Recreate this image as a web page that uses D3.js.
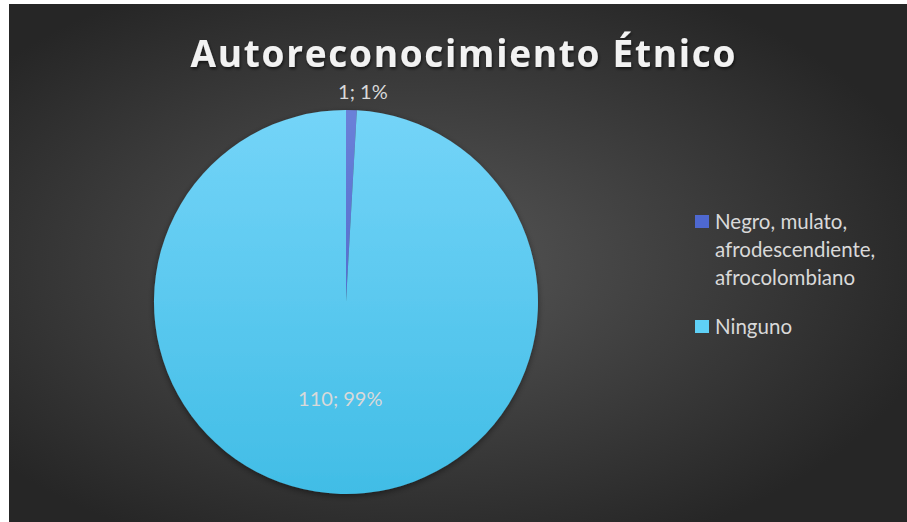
<!DOCTYPE html>
<html>
<head>
<meta charset="utf-8">
<script src="https://cdn.jsdelivr.net/npm/d3@7"></script>
<style>
html, body { margin: 0; padding: 0; background: #fff; }
svg { display: block; }
.title { font-family: "Open Sans", sans-serif; font-weight: 700; fill: #f2f2f2; }
.lbl { font-family: Lato, "Open Sans", sans-serif; fill: #d9d9d9; }
.legend text { font-family: Lato, "Open Sans", sans-serif; fill: #d9d9d9; }
</style>
</head>
<body>
<svg id="chart" width="907" height="522"></svg>
<script>
// data
var categories = ["Negro, mulato, afrodescendiente, afrocolombiano", "Ninguno"];
var legendLines = [["Negro, mulato,", "afrodescendiente,", "afrocolombiano"], ["Ninguno"]];
var values = [1, 110];
var percents = ["1%", "99%"];
var chartTitle = "Autoreconocimiento Étnico";

var svg = d3.select("#chart"),
    W = +svg.attr("width"), H = +svg.attr("height");

var defs = svg.append("defs");

/// background gradient, lighter in the middle
var bg = defs.append("radialGradient").attr("id", "bg")
    .attr("cx", 0.45).attr("cy", 0.5).attr("r", 0.6);
bg.append("stop").attr("offset", "0%").attr("stop-color", "#575757");
bg.append("stop").attr("offset", "100%").attr("stop-color", "#262626");

/// slice gradients (top light, bottom darker)
var sliceColors = [["#6b80d8", "#3d5cc4"], ["#74d4f8", "#41bde6"]];
var legendColors = ["#4e68d0", "#5fd0f6"];
sliceColors.forEach(function(c, i) {
    var g = defs.append("linearGradient").attr("id", "sl" + i)
        .attr("gradientUnits", "userSpaceOnUse")
        .attr("x1", 0).attr("y1", -192).attr("x2", 0).attr("y2", 192);
    g.append("stop").attr("offset", "0%").attr("stop-color", c[0]);
    g.append("stop").attr("offset", "100%").attr("stop-color", c[1]);
});

var sh = defs.append("filter").attr("id", "tshadow")
    .attr("x", "-10%").attr("y", "-30%").attr("width", "120%").attr("height", "160%");
sh.append("feDropShadow").attr("dx", 1).attr("dy", 2).attr("stdDeviation", 1.5)
    .attr("flood-color", "#000").attr("flood-opacity", 0.6);

var psh = defs.append("filter").attr("id", "pshadow")
    .attr("x", "-10%").attr("y", "-10%").attr("width", "120%").attr("height", "120%");
psh.append("feDropShadow").attr("dx", 0).attr("dy", 2).attr("stdDeviation", 3)
    .attr("flood-color", "#000").attr("flood-opacity", 0.45);

svg.append("rect")
    .attr("x", 9).attr("y", 4)
    .attr("width", W - 9).attr("height", H - 4)
    .attr("fill", "url(#bg)");

/// title
svg.append("text")
    .attr("class", "title")
    .attr("x", 463).attr("y", 67)
    .attr("text-anchor", "middle")
    .attr("font-size", 37)
    .attr("textLength", 545)
    .attr("lengthAdjust", "spacing")
    .attr("filter", "url(#tshadow)")
    .text(chartTitle);

/// pie
var cx = 346, cy = 302, r = 192;

var pie = d3.pie().sort(null).value(function(d) { return d; });
var arcs = pie(values);

var arc = d3.arc().innerRadius(0).outerRadius(r);
var outerArc = d3.arc().innerRadius(r + 16).outerRadius(r + 16);

var g = svg.append("g").attr("transform", "translate(" + cx + "," + cy + ")");

g.append("g").attr("filter", "url(#pshadow)")
  .selectAll("path")
  .data(arcs)
  .enter().append("path")
    .attr("d", arc)
    .attr("fill", function(d, i) { return "url(#sl" + i + ")"; });

/// data labels: small slice outside, big slice inside
g.selectAll("text.lbl")
  .data(arcs)
  .enter().append("text")
    .attr("class", "lbl")
    .attr("font-size", 20)
    .attr("text-anchor", "middle")
    .attr("transform", function(d, i) {
        var p = i === 0 ? outerArc.centroid(d) : arc.centroid(d);
        if (i === 0) { p[0] += 11; p[1] += 5; }
        else { p[0] -= 3; p[1] += 8; }
        return "translate(" + p[0] + "," + p[1] + ")";
    })
    .text(function(d, i) { return values[i] + "; " + percents[i]; });

/// legend
var legend = svg.append("g").attr("class", "legend")
    .attr("transform", "translate(695,215)");

var ly = 0;
categories.forEach(function(c, i) {
    var item = legend.append("g").attr("transform", "translate(0," + ly + ")");
    item.append("rect")
        .attr("width", 14).attr("height", 13)
        .attr("fill", legendColors[i]);
    legendLines[i].forEach(function(t, j) {
        item.append("text")
            .attr("x", 20).attr("y", 14 + j * 28)
            .attr("font-size", 20.5)
            .text(t);
    });
    ly += legendLines[i].length * 28 + 21;
});
</script>
</body>
</html>
